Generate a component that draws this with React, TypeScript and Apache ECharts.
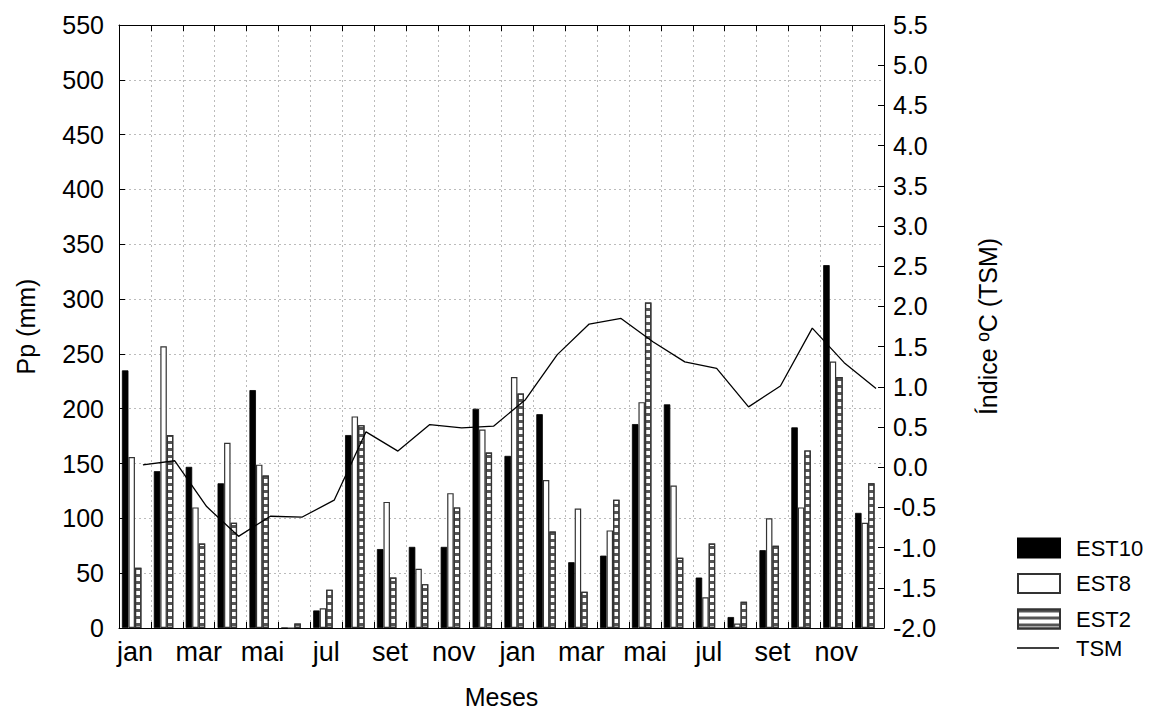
import React, { useEffect, useRef } from "react";
import * as echarts from "echarts";

const months = ["jan", "fev", "mar", "abr", "mai", "jun", "jul", "ago", "set", "out", "nov", "dez", "jan", "fev", "mar", "abr", "mai", "jun", "jul", "ago", "set", "out", "nov", "dez"];
const est10 = [235, 143, 147, 132, 217, 0, 16, 176, 72, 74, 74, 200, 157, 195, 60, 66, 186, 204, 46, 10, 71, 183, 331, 105];
const est8 = [156, 257, 110, 169, 149, 0, 18, 193, 115, 54, 123, 181, 229, 135, 109, 89, 206, 130, 28, 4, 100, 110, 243, 96];
const est2 = [55, 176, 77, 96, 139, 4, 35, 185, 46, 40, 110, 160, 214, 88, 33, 117, 297, 64, 77, 24, 75, 162, 229, 132];
const tsm = [0.03, 0.08, -0.49, -0.86, -0.61, -0.62, -0.41, 0.44, 0.2, 0.53, 0.49, 0.51, 0.84, 1.4, 1.78, 1.85, 1.56, 1.31, 1.23, 0.75, 1.01, 1.73, 1.3, 0.98];
const leftTicks = { min: 0, max: 550, step: 50 };
const rightTicks = { min: -2, max: 5.5, step: 0.5 };

const FONT = "'Liberation Sans', Arial, Helvetica, sans-serif";

export default function App() {
  const ref = useRef<HTMLDivElement>(null);
  useEffect(() => {
    if (!ref.current) return;
    const chart = echarts.init(ref.current, null, { renderer: "svg" });
    const axisLine = { show: true, lineStyle: { color: "#000", width: 1 } };
    const tickIn = { show: true, inside: true, length: 6, lineStyle: { color: "#000" } };
    const dotted = { show: true, lineStyle: { color: "#bbb", type: [2, 3] as any, width: 1 } };
    const hatch = {
      symbol: "rect",
      symbolSize: 1,
      color: "#555",
      dashArrayX: [[1, 0]],
      dashArrayY: [2.2, 3.4],
      rotation: 0,
    };
    chart.setOption({
      animation: false,
      textStyle: { fontFamily: FONT },
      grid: { left: 119, right: 268, top: 25, bottom: 85, containLabel: false, outerBoundsMode: "none" },
      legend: {
        orient: "vertical",
        left: 1017,
        top: 537,
        padding: 0,
        itemWidth: 42,
        itemHeight: 19,
        itemGap: 13.5,
        icon: "rect",
        data: ["EST10", "EST8", "EST2"],
        textStyle: { fontSize: 22, color: "#000", fontFamily: FONT, padding: [0, 0, 0, 11] },
      },
      graphic: [
        {
          type: "line",
          shape: { x1: 1017, y1: 648, x2: 1059, y2: 648 },
          style: { stroke: "#000", lineWidth: 1.3 },
        },
        {
          type: "text",
          x: 1076,
          y: 648,
          style: { text: "TSM", fill: "#000", font: `22px ${FONT}`, verticalAlign: "middle", align: "left" },
        },
      ],
      xAxis: [
        {
          type: "category",
          data: months,
          boundaryGap: true,
          axisLine,
          axisTick: { ...tickIn, interval: 0, alignWithLabel: false },
          axisLabel: { interval: 1, fontSize: 27, color: "#000", margin: 10, fontFamily: FONT },
          splitLine: { ...dotted, interval: 0 },
          name: "Meses",
          nameLocation: "middle",
          nameGap: 59,
          nameTextStyle: { fontSize: 25, lineHeight: 20, color: "#000", fontFamily: FONT },
        },
        { type: "value", min: 0, max: 24, show: false },
        {
          type: "category",
          data: months,
          position: "top",
          axisLine,
          axisTick: { ...tickIn, interval: 0 },
          axisLabel: { show: false },
          splitLine: { show: false },
        },
      ],
      yAxis: [
        {
          type: "value",
          min: leftTicks.min,
          max: leftTicks.max,
          interval: leftTicks.step,
          axisLine,
          axisTick: tickIn,
          axisLabel: { fontSize: 25, color: "#000", margin: 15, fontFamily: FONT },
          splitLine: dotted,
          name: "Pp (mm)",
          nameLocation: "middle",
          nameGap: 81,
          nameTextStyle: { fontSize: 25, color: "#000", fontFamily: FONT },
        },
        {
          type: "value",
          min: rightTicks.min,
          max: rightTicks.max,
          interval: rightTicks.step,
          position: "right",
          axisLine,
          axisTick: tickIn,
          axisLabel: { fontSize: 25, color: "#000", margin: 9, fontFamily: FONT, formatter: (v: number) => v.toFixed(1) },
          splitLine: { show: false },
          name: "Índice ºC (TSM)",
          nameLocation: "middle",
          nameGap: 91,
          nameRotate: 90,
          nameTextStyle: { fontSize: 25, color: "#000", fontFamily: FONT },
        },
      ],
      series: [
        {
          name: "EST10",
          type: "bar",
          data: est10,
          barWidth: 6.5,
          barGap: "0%",
          itemStyle: { color: "#000", borderColor: "#000", borderWidth: 0.8 },
        },
        {
          name: "EST8",
          type: "bar",
          data: est8,
          barWidth: 6.5,
          barGap: "0%",
          itemStyle: { color: "#fff", borderColor: "#333", borderWidth: 1.2 },
        },
        {
          name: "EST2",
          type: "bar",
          data: est2,
          barWidth: 6.5,
          barGap: "0%",
          itemStyle: { color: "#fff", borderColor: "#333", borderWidth: 1.2, decal: hatch },
        },
        {
          name: "spacer",
          type: "bar",
          data: months.map(() => null),
          barWidth: 6.5,
          barGap: "0%",
          silent: true,
        },
        {
          name: "TSM",
          type: "line",
          xAxisIndex: 1,
          yAxisIndex: 1,
          symbol: "none",
          data: tsm.map((v, i) => [i + 0.75, v]),
          lineStyle: { color: "#000", width: 1.3 },
          itemStyle: { color: "#000" },
          z: 5,
        },
      ],
    });
    return () => chart.dispose();
  }, []);
  return <div ref={ref} style={{ width: 1152, height: 713, position: "absolute", left: 0, top: 0 }} />;
}
